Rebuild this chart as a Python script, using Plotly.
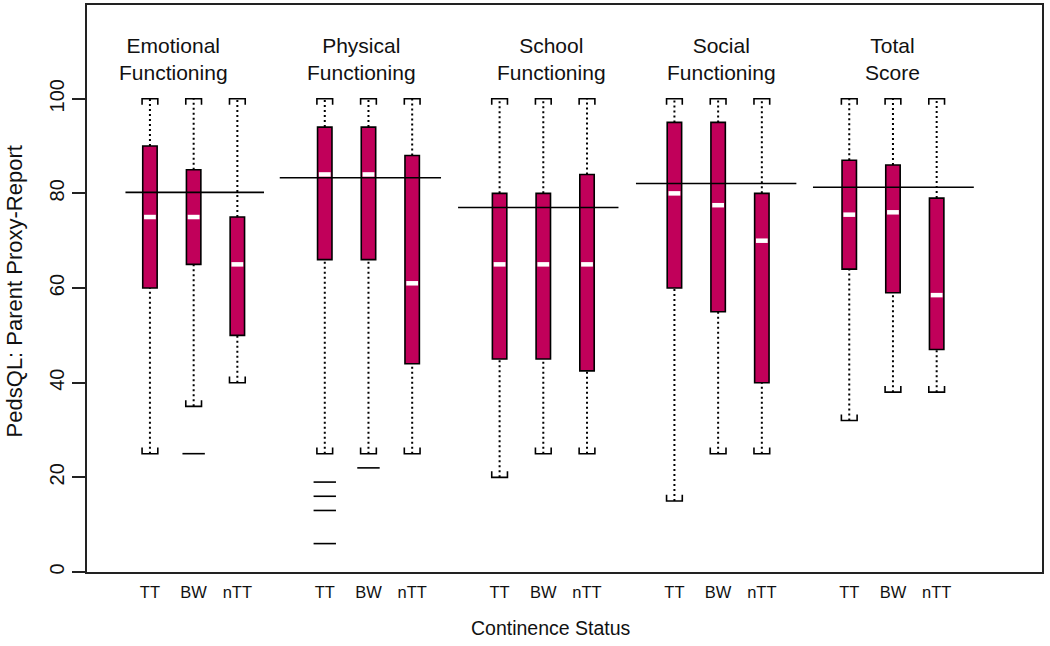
import plotly.graph_objects as go

# ---------------- data ----------------
domains = ["Emotional<br>Functioning", "Physical<br>Functioning", "School<br>Functioning",
           "Social<br>Functioning", "Total<br>Score"]
statuses = ["TT", "BW", "nTT"]
positions = [1, 2, 3, 5, 6, 7, 9, 10, 11, 13, 14, 15, 17, 18, 19]
tick_labels = statuses * 5

upper_whisker = [100, 100, 100, 100, 100, 100, 100, 100, 100, 100, 100, 100, 100, 100, 100]
q3 = [90, 85, 75, 94, 94, 88, 80, 80, 84, 95, 95, 80, 87, 86, 79]
median = [75, 75, 65, 84, 84, 61, 65, 65, 65, 80, 77.5, 70, 75.5, 76, 58.5]
q1 = [60, 65, 50, 66, 66, 44, 45, 45, 42.5, 60, 55, 40, 64, 59, 47]
lower_whisker = [25, 35, 40, 25, 25, 25, 20, 25, 25, 15, 25, 25, 32, 38, 38]

outlier_pos = [2, 5, 5, 5, 5, 6]
outlier_val = [25, 19, 16, 13, 6, 22]

norm_mean = [80.2, 83.3, 77.0, 82.1, 81.3]
norm_x0 = [0.44, 3.97, 8.05, 12.12, 16.17]
norm_x1 = [3.61, 7.66, 11.72, 15.79, 19.85]

title_x = [1.53, 5.85, 10.18, 14.08, 18.0]
title_y = 108.3

# ---------------- style ----------------
BOX_COLOR = "#C1005A"
BOX_W = 0.33
MED_HALF = 0.135
CAP_HALF = 0.18
CAP_D = 1.3
FONT = "Liberation Sans, Arial, Helvetica, sans-serif"

fig = go.Figure()

# boxes
fig.add_trace(go.Bar(
    x=positions, base=q1, y=[a - b for a, b in zip(q3, q1)], width=BOX_W,
    marker=dict(color=BOX_COLOR, line=dict(color="black", width=1.6)),
    hoverinfo="skip", showlegend=False))

# whiskers (dotted)
wx, wy = [], []
for p, lo, a, b, hi in zip(positions, lower_whisker, q1, q3, upper_whisker):
    wx += [p, p, None, p, p, None]
    wy += [b, hi, None, lo, a, None]
fig.add_trace(go.Scatter(x=wx, y=wy, mode="lines",
                         line=dict(color="black", width=2, dash="2px,3px"),
                         hoverinfo="skip", showlegend=False))

# caps (brackets)
cx, cy = [], []
for p, lo, hi in zip(positions, lower_whisker, upper_whisker):
    cx += [p - CAP_HALF, p - CAP_HALF, p + CAP_HALF, p + CAP_HALF, None]
    cy += [hi - CAP_D, hi, hi, hi - CAP_D, None]
    cx += [p - CAP_HALF, p - CAP_HALF, p + CAP_HALF, p + CAP_HALF, None]
    cy += [lo + CAP_D, lo, lo, lo + CAP_D, None]
fig.add_trace(go.Scatter(x=cx, y=cy, mode="lines",
                         line=dict(color="black", width=1.6),
                         hoverinfo="skip", showlegend=False))

# medians (white)
mx, my = [], []
for p, m in zip(positions, median):
    mx += [p - MED_HALF, p + MED_HALF, None]
    my += [m, m, None]
fig.add_trace(go.Scatter(x=mx, y=my, mode="lines",
                         line=dict(color="white", width=4.5),
                         hoverinfo="skip", showlegend=False))

# norm reference lines
nx, ny = [], []
for x0, x1, v in zip(norm_x0, norm_x1, norm_mean):
    nx += [x0, x1, None]
    ny += [v, v, None]
fig.add_trace(go.Scatter(x=nx, y=ny, mode="lines",
                         line=dict(color="black", width=1.6),
                         hoverinfo="skip", showlegend=False))

# outliers
fig.add_trace(go.Scatter(x=outlier_pos, y=outlier_val, mode="markers",
                         marker=dict(symbol="line-ew", size=16,
                                     line=dict(color="black", width=1.6)),
                         hoverinfo="skip", showlegend=False))

# group titles
for tx, t in zip(title_x, domains):
    fig.add_annotation(x=tx, y=title_y, xref="x", yref="y", text=t, showarrow=False,
                       font=dict(family=FONT, size=21, color="#111"),
                       xanchor="center", yanchor="middle", align="center")

# axis titles
fig.add_annotation(x=-0.0764, y=59.3, xref="paper", yref="y",
                   text="PedsQL: Parent Proxy-Report", textangle=-90, showarrow=False,
                   font=dict(family=FONT, size=22, color="#111"),
                   xanchor="center", yanchor="middle")
fig.add_annotation(x=0.4859, y=-0.0984, xref="paper", yref="paper",
                   text="Continence Status", showarrow=False,
                   font=dict(family=FONT, size=19.5, color="#111"),
                   xanchor="center", yanchor="middle")

fig.update_layout(
    width=1050, height=646,
    margin=dict(l=87, r=8, t=3, b=74),
    paper_bgcolor="white", plot_bgcolor="white",
    barmode="overlay", showlegend=False,
    font=dict(family=FONT, color="#111"),
    xaxis=dict(range=[-0.44, 21.41], tickmode="array", tickvals=positions,
               ticktext=tick_labels, ticks="", showgrid=False, zeroline=False,
               showline=True, linecolor="#222", linewidth=2, mirror=True,
               tickfont=dict(family=FONT, size=16.5, color="#111"),
               ticklabelstandoff=4),
    yaxis=dict(range=[0, 119.8], tickmode="array", tickvals=[0, 20, 40, 60, 80, 100],
               ticks="outside", ticklen=13, tickwidth=1.5, tickcolor="#222",
               tickangle=-90, showgrid=False, zeroline=False,
               showline=True, linecolor="#222", linewidth=2, mirror=True,
               tickfont=dict(family=FONT, size=20, color="#111")),
)

fig.write_html("out.html", config={"displayModeBar": False},
               post_script="document.body.style.margin='0px';")
